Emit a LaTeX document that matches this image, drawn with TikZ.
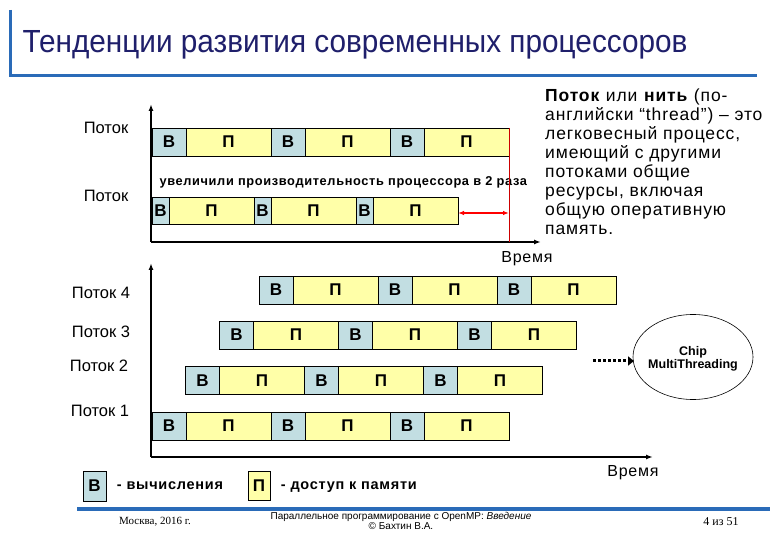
\documentclass[tikz,border=0pt]{standalone}
\usepackage{fontspec}
\setmainfont{Liberation Sans}
\newfontfamily\spaced[LetterSpace=5]{Liberation Sans}
\newfontfamily\footserif{Liberation Serif}
\usepackage{tikz}
\usetikzlibrary{positioning,shapes.geometric,arrows.meta}
\definecolor{vcol}{HTML}{C2DEE2}
\definecolor{pcol}{HTML}{FFFFA8}
\definecolor{titlecol}{HTML}{1F1F6B}
\definecolor{rulecol}{HTML}{2A6BB8}
\newcommand{\fs}[1]{\fontsize{#1}{#1}\selectfont}

\begin{document}
\begin{tikzpicture}[x=1pt, y=-1pt,
  seg/.style={draw, line width=0.9pt, outer sep=0pt, inner sep=0pt,
              minimum height=28pt, font=\bfseries\fs{17}},
  vb/.style={seg, fill=vcol, minimum width=34pt},
  vh/.style={seg, fill=vcol, minimum width=17pt, minimum height=27pt},
  pb/.style={seg, fill=pcol, minimum width=85pt},
  ph/.style={seg, fill=pcol, minimum width=85pt, minimum height=27pt},
  lbl/.style={font=\fs{16.5}},
  key/.style={draw, line width=0.9pt, inner sep=0pt, font=\bfseries\fs{17}},
  keytext/.style={right=7pt of #1, font=\spaced\bfseries\fs{14.5}, text height=1.6ex, text depth=.4ex},
  ax/.style={line width=1.8pt, -{Latex[length=7pt,width=5pt]}},
  node distance=0pt
]
  \fill[white] (0,0) rectangle (780,540);
  \useasboundingbox (0,0) rectangle (780,540);

  % title
  \coordinate (tl) at (10,10); \coordinate (bl) at (10,76); \coordinate (br) at (757,76);
  \draw[rulecol, line width=3pt] (tl) -- (bl) -- (br);
  \node[anchor=west, text=titlecol, font=\fs{32}] (title) at (19,45)
    {\scalebox{0.93}[1]{Тенденции развития современных процессоров}};

  % one thread
  \node[lbl] (t1) at (106,128) {Поток};
  \node[lbl] (t2) at (106,196) {Поток};
  \node[vb, anchor=west] (a1) at (152,142) {В};
  \node[pb, right=of a1] (a2) {П}; \node[vb, right=of a2] (a3) {В};
  \node[pb, right=of a3] (a4) {П}; \node[vb, right=of a4] (a5) {В};
  \node[pb, right=of a5] (a6) {П};
  \node[anchor=west, font=\spaced\bfseries\fs{12.8}] (fast) at (156,182)
    {увеличили производительность процессора в 2 раза};
  \node[vh, anchor=west] (b1) at (152,210.5) {В};
  \node[ph, right=of b1] (b2) {П}; \node[vh, right=of b2] (b3) {В};
  \node[ph, right=of b3] (b4) {П}; \node[vh, right=of b4] (b5) {В};
  \node[ph, right=of b5] (b6) {П};

  \coordinate (o1) at (151,242); \coordinate (y1) at (151,104); \coordinate (x1) at (541,242);
  \draw[ax] (o1) -- (y1); \draw[ax] (o1) -- (x1);
  \node[font=\spaced\fs{16}] (time1) at (527,259) {Время};
  \coordinate (rbot) at (509,242); \coordinate (rmid) at (509,213);
  \draw[red!80!black, line width=0.8pt] (a6.north east) -- (rbot);
  \draw[red, line width=1.4pt, {Latex[length=6pt,width=4.5pt]}-{Latex[length=6pt,width=4.5pt]}]
    (b6.east |- rmid) -- (rmid);

  % definition
  \node[anchor=north west, inner sep=0pt, align=left, font=\spaced\fontsize{17.5}{19}\selectfont] (def) at (545,89)
    {\textbf{Поток} или \textbf{нить} (по-\\английски “thread”) – это\\легковесный процесс,\\имеющий с другими\\потоками общие\\ресурсы, включая\\общую оперативную\\память.};

  % four threads
  \node[lbl] (p4) at (101,293) {Поток 4};
  \node[lbl] (p3) at (101,332) {Поток 3};
  \node[lbl] (p2) at (99,366) {Поток 2};
  \node[lbl] (p1) at (100,411) {Поток 1};

  \node[vb, anchor=west] (d1) at (259,290) {В};
  \node[pb, right=of d1] (d2) {П}; \node[vb, right=of d2] (d3) {В};
  \node[pb, right=of d3] (d4) {П}; \node[vb, right=of d4] (d5) {В};
  \node[pb, right=of d5] (d6) {П};
  \node[vb, anchor=west] (c1) at (219.5,335) {В};
  \node[pb, right=of c1] (c2) {П}; \node[vb, right=of c2] (c3) {В};
  \node[pb, right=of c3] (c4) {П}; \node[vb, right=of c4] (c5) {В};
  \node[pb, right=of c5] (c6) {П};
  \node[vb, anchor=west] (e1) at (185.5,380.5) {В};
  \node[pb, right=of e1] (e2) {П}; \node[vb, right=of e2] (e3) {В};
  \node[pb, right=of e3] (e4) {П}; \node[vb, right=of e4] (e5) {В};
  \node[pb, right=of e5] (e6) {П};
  \node[vb, anchor=west] (f1) at (152,426) {В};
  \node[pb, right=of f1] (f2) {П}; \node[vb, right=of f2] (f3) {В};
  \node[pb, right=of f3] (f4) {П}; \node[vb, right=of f4] (f5) {В};
  \node[pb, right=of f5] (f6) {П};

  \coordinate (o2) at (151,457); \coordinate (y2) at (151,263); \coordinate (x2) at (653,457);
  \draw[ax] (o2) -- (y2); \draw[ax] (o2) -- (x2);
  \node[font=\spaced\fs{16}] (time2) at (633,473) {Время};

  % chip multithreading
  \node[align=center, font=\bfseries\fs{12.5}] (cmt) at (693,359) {Chip\\MultiThreading};
  \draw[line width=0.6pt] (693,357) ellipse [x radius=60, y radius=42.5];
  \coordinate (dstart) at (593,361); \coordinate (cmtw) at (634,361);
  \draw[line width=3pt, dash pattern=on 3pt off 2pt, -{Triangle[length=6pt,width=9pt]}]
    (dstart) -- (cmtw);

  % legend
  \node[key, fill=vcol, minimum width=23pt, minimum height=30pt] (lv) at (94.5,486) {В};
  \node[keytext=lv] (lvt) {- вычисления};
  \node[key, fill=pcol, minimum width=22pt, minimum height=29pt] (lp) at (259,486) {П};
  \node[keytext=lp] (lpt) {- доступ к памяти};

  % footer
  \coordinate (fl) at (77,509); \coordinate (fr) at (770,509);
  \draw[rulecol, line width=4pt] (fl) -- (fr);
  \node[font=\footserif\fs{11}] (city) at (155,522) {Москва, 2016 г.};
  \node[font=\fs{10}, align=center] (course) at (401,521)
    {Параллельное программирование с OpenMP: \textit{Введение}\\© Бахтин В.А.};
  \node[font=\footserif\fs{12}] (pg) at (721,522) {4 из 51};
\end{tikzpicture}
\end{document}
